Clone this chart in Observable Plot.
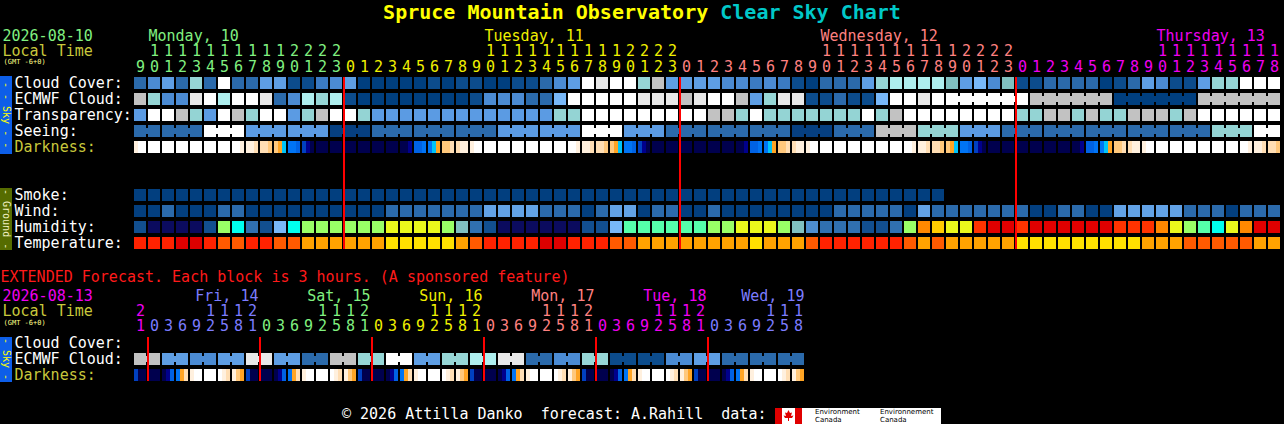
<!DOCTYPE html>
<html><head><meta charset="utf-8">
<script src="https://cdn.jsdelivr.net/npm/d3@7"></script>
<script src="https://cdn.jsdelivr.net/npm/@observablehq/plot@0.6"></script>
<style>
html,body{margin:0;padding:0;background:#000;}
#wrap{position:relative;width:1284px;height:424px;background:#000;overflow:hidden;font-family:"DejaVu Sans Mono",monospace;}
.abs{position:absolute;}
.bar{position:absolute;left:0;width:12px;display:flex;align-items:center;justify-content:center;overflow:hidden;}
.bar span{writing-mode:vertical-rl;font-size:10px;line-height:12px;white-space:pre;font-family:"DejaVu Sans Mono",monospace;}
svg{position:absolute;left:0;}
</style></head><body><div id="wrap"></div>
<script>
// ---------------- DATA ----------------
const hours = [9,10,11,12,13,14,15,16,17,18,19,20,21,22,23,
  0,1,2,3,4,5,6,7,8,9,10,11,12,13,14,15,16,17,18,19,20,21,22,23,
  0,1,2,3,4,5,6,7,8,9,10,11,12,13,14,15,16,17,18,19,20,21,22,23,
  0,1,2,3,4,5,6,7,8,9,10,11,12,13,14,15,16,17,18];
const dayNames = ["Monday, 10","Tuesday, 11","Wednesday, 12","Thursday, 13"];

const cloud = [20,40,50,20,70,20,100,20,20,50,50,10,10,30,40,
  50,0,0,0,0,0,10,0,10,10,0,0,10,10,20,40,50,100,90,100,100,70,80,50,
  50,50,50,40,40,30,40,30,10,0,20,20,20,50,70,75,75,75,75,60,50,55,40,60,
  10,10,20,20,20,20,0,10,20,50,40,10,10,50,70,70,100,100,100];
const ecmwf = [80,70,40,40,90,100,75,100,100,90,20,40,75,70,75,
  10,0,0,0,0,0,0,0,0,10,40,40,40,20,20,55,100,100,100,100,100,90,90,90,
  80,90,100,100,80,50,70,90,90,10,10,20,10,10,55,100,100,90,100,100,100,100,100,100,
  100,80,80,80,80,80,80,0,0,0,0,0,0,80,80,80,80,80,80];
const ecmwfBlocks = [[58,63],[64,69],[70,75],[76,81]];
// transparency: 0 too cloudy, 1 poor, 2 below average, 3 average
const transparency = [3,0,0,1,2,3,0,1,2,0,0,3,2,1,0,
  0,2,3,3,3,3,3,3,3,3,3,3,3,3,3,2,2,0,0,0,0,0,0,0,
  0,0,1,1,2,0,2,2,2,2,2,2,2,0,2,1,0,0,0,0,0,0,0,0,
  2,2,1,1,2,1,2,2,1,1,1,2,1,0,0,0,0,0,0];
// seeing: 0 too cloudy, 1 bad, 2 poor, 3 average, 4 good, 5 excellent (3-hour blocks)
const seeingSpan = [2,3,3,3,3,3,3,3,3,3,3,3,3,3,3,3,3,3,3,3,3,3,3,3,3,3,3,2];
const seeing = [4,4,0,3,3,5,4,4,4,3,3,0,3,4,4,4,5,4,1,2,3,4,4,4,4,4,2,0];
// darkness: three readings per hour block, 0 (dark) .. A (daylight)
const darkness = ["9AA","AAA","AAA","AAA","AAA","AAA","AAA","AA9","998","887","765","443","210","000","000",
  "000","000","000","000","001","334","456","778","899","9AA","AAA","AAA","AAA","AAA","AAA","AAA","AA9","998","887","765","443","210","000","000",
  "000","000","000","000","001","334","456","778","899","9AA","AAA","AAA","AAA","AAA","AAA","AAA","AA9","998","887","765","443","210","000","000",
  "000","000","000","000","001","334","456","778","899","9AA","AAA","AAA","AAA","AAA","AAA","AAA","AA9","998","887"];
const smoke = [0,0,0,0,0,0,0,0,0,0,0,0,0,0,0,0,0,0,0,0,0,0,0,0,0,0,0,0,0,0,
  0,0,0,0,0,0,0,0,0,0,0,0,0,0,0,0,0,0,0,0,0,0,0,0,0,0,0,0];
// wind: 0 = 0-5 mph, 1 = 6-11 mph, 2 = 12-16 mph
const wind = [0,0,1,0,0,0,1,1,0,0,0,0,0,0,0,
  0,0,0,1,1,1,1,1,1,1,2,2,2,2,1,1,1,0,1,2,2,0,1,1,
  0,0,1,0,0,0,0,0,0,0,0,1,1,1,1,1,0,2,1,1,1,1,1,1,
  1,0,0,1,1,0,0,2,2,2,2,2,1,1,1,0,1,1,1];
const humidity = [27,20,20,20,20,27,62,52,32,27,42,52,62,62,62,
  62,62,62,67,67,67,67,62,47,32,27,20,20,20,20,20,20,27,27,42,57,57,57,57,
  57,57,62,62,67,67,67,62,47,37,32,32,32,27,27,32,62,77,72,67,67,82,87,87,
  82,87,87,87,87,87,87,82,82,82,77,67,62,57,52,67,77,87,87];
const temperature = [81,81,81,86,86,81,77,77,81,81,77,77,72,72,72,
  72,72,72,68,68,68,68,68,72,77,81,81,81,81,86,86,81,81,81,77,77,72,72,72,
  72,72,72,72,72,68,72,72,72,77,81,81,81,81,81,81,77,72,77,72,72,72,72,72,
  68,68,68,68,68,68,68,68,68,72,72,72,77,77,77,77,77,72,72];

// extended forecast (3-hour blocks)
const extHours = [21, 0,3,6,9,12,15,18,21, 0,3,6,9,12,15,18,21, 0,3,6,9,12,15,18,21,
  0,3,6,9,12,15,18,21, 0,3,6,9,12,15,18,21, 0,3,6,9,12,15,18];
const extDayNames = [null,"Fri, 14","Sat, 15","Sun, 16","Mon, 17","Tue, 18","Wed, 19"];
const extEcmwf = [80,50,40,50,90,50,20,80,70,100,50,70,75,90,20,40,70,10,10,40,50,20,20,20]; // 6-hour blocks
const extDarkness = ["200",
  "000","013","468","9AA","AAA","A98","976","200",
  "000","013","468","9AA","AAA","A98","976","200",
  "000","013","468","9AA","AAA","A98","976","200",
  "000","013","468","9AA","AAA","A98","976","200",
  "000","013","468","9AA","AAA","A98","976","200",
  "000","013","468","9AA","AAA","A98","976"];

// ---------------- STYLE ----------------
const mono = "DejaVu Sans Mono";
const dayColors = ["#80f080","#f0f000","#ff8080","#f000f0"];
const extDayColors = ["#f000f0","#7c7cff","#80f080","#f0f000","#ff8080","#f000f0","#7c7cff"];
const olive = "#c8c83c";
const cloudScale = d3.scaleOrdinal([0,10,20,30,40,50,55,60,70,75,80,90,100],
  ["#003f7f","#0c4c8c","#2b6aab","#3b7bc2","#4b8bd3","#5e9ee4","#78b8f8","#80c0c0","#96d6d6","#aeeeee","#c2c2c2","#e8e8e8","#ffffff"]);
const transScale = d3.scaleOrdinal([0,1,2,3],["#ffffff","#c2c2c2","#94d4d4","#5b9be3"]);
const seeingScale = d3.scaleOrdinal([0,1,2,3,4,5],["#ffffff","#c2c2c2","#94d4d4","#5b9be3","#2b6aab","#063f80"]);
const darkScale = d3.scaleOrdinal(d3.range(11),["#00004e","#00008c","#0040c0","#0062e4","#0074f4","#00c4f8","#ffa424","#ffc87c","#ffdeb4","#fff0de","#ffffff"]);
const smokeScale = d3.scaleOrdinal([0],["#023f7f"]);
const windScale = d3.scaleOrdinal([0,1,2],["#033f7f","#2b6aab","#62a2e6"]);
const humScale = d3.scaleOrdinal([20,27,32,37,42,47,52,57,62,67,72,77,82,87],
  ["#0b0b5e","#124f8f","#3070b0","#4e8ed0","#78b8f8","#80c0c0","#00ffee","#55ffaa","#99ff66","#eaf81c","#ffcc00","#ff8800","#ff3300","#e00000"]);
const tempScale = d3.scaleOrdinal([68,72,77,81,86],["#ffe000","#ffa200","#ff5a00","#ff2200","#dd0000"]);

const CW = 12/14;   // cell width in column units (12px of 14px)

function cells(values, row, scale){ return values.map((v,i)=>({i,row,fill:scale(v)})); }
function bridges(values, row, scale, blocks){
  const out=[];
  for(const [a,b] of blocks) for(let i=a;i<b;i++) out.push({i,row,fill:scale(values[i])});
  return out;
}
function spansToBlocks(spans){ const out=[]; let s=0; for(const n of spans){ out.push([s,s+n-1]); s+=n; } return out; }
function darkCells(arr,row){
  const out=[];
  arr.forEach((s,i)=>{ for(let k=0;k<3;k++) out.push({i,k,row,fill:darkScale(parseInt(s[k],16))}); });
  return out;
}

const seeingBlocks = spansToBlocks(seeingSpan);
const seeingCol = [];
seeingBlocks.forEach(([a,b],j)=>{ for(let i=a;i<=b;i++) seeingCol[i]=seeing[j]; });
const extBlocks = extEcmwf.map((v,j)=>[2*j,2*j+1]);
const extEcmwfCol = [];
extBlocks.forEach(([a,b],j)=>{ for(let i=a;i<=b;i++) extEcmwfCol[i]=extEcmwf[j]; });

let dd=0; const dayOf = hours.map((h,i)=>{ if(i>0 && h<hours[i-1]) dd++; return dd; });
const hourCols = hours.map((h,i)=>({i,h,day:dayOf[i]}));
const dayLabels = dayNames.map((name,day)=>{ const c = hourCols.find(d=>d.day===day && d.h===10); return {name,day,i:c.i}; });
const midnights = hourCols.filter(d=>d.h===0).map(d=>d.i);

let ed=0; const extDayOf = extHours.map((h,i)=>{ if(i>0 && h<extHours[i-1]) ed++; return ed; });
const extCols = extHours.map((h,i)=>({i,h,day:extDayOf[i]}));
const extDayLabels = extDayNames.map((name,day)=>{ if(!name) return null; const cs = extCols.filter(d=>d.day===day); return {name,day,i:cs[cs.length-1].i}; }).filter(Boolean);
const extMidnights = extCols.filter(d=>d.h===0).map(d=>d.i);

// ---------------- PLOT A (main) ----------------
const slotsA = ["Cloud Cover:","ECMWF Cloud:","Transparency:","Seeing:","Darkness:","g1","g2","Smoke:","Wind:","Humidity:","Temperature:"];
const rowLabelsA = slotsA.filter(s=>!s.startsWith("g")).map(s=>({row:s, color: s==="Darkness:"?olive:"#ffffff"}));

const cellDataA = [
  ...cells(cloud,"Cloud Cover:",cloudScale),
  ...cells(ecmwf,"ECMWF Cloud:",cloudScale),
  ...cells(transparency,"Transparency:",transScale),
  ...cells(seeingCol,"Seeing:",seeingScale),
  ...cells(smoke,"Smoke:",smokeScale),
  ...cells(wind,"Wind:",windScale),
  ...cells(humidity,"Humidity:",humScale),
  ...cells(temperature,"Temperature:",tempScale)
];
const bridgeDataA = [
  ...bridges(seeingCol,"Seeing:",seeingScale,seeingBlocks),
  ...bridges(ecmwf,"ECMWF Cloud:",cloudScale,ecmwfBlocks)
];
const txt = {fontFamily: mono, fontSize: 15, lineAnchor: "middle"};

const plotA = Plot.plot({
  width: 1284, height: 260,
  marginLeft: 134, marginRight: 2, marginTop: 77, marginBottom: 7,
  style: {background: "transparent", fontFamily: mono},
  x: {type: "linear", domain: [0, 82], axis: null},
  y: {type: "band", domain: slotsA, padding: 0, axis: null},
  color: {type: "identity"},
  marks: [
    Plot.barX(cellDataA, {x1: "i", x2: d=>d.i+CW, y: "row", fill: "fill", insetBottom: 4}),
    Plot.barX(bridgeDataA, {x1: d=>d.i+CW, x2: d=>d.i+1, y: "row", fill: "fill", insetTop: 3, insetBottom: 7}),
    Plot.barX(darkCells(darkness,"Darkness:"), {x1: d=>d.i+d.k*CW/3, x2: d=>d.i+(d.k+1)*CW/3, y: "row", fill: "fill", insetBottom: 4}),
    Plot.ruleX(midnights, {x: d=>d, stroke: "#ff0000", strokeWidth: 2, dx: -0.5, insetBottom: 4}),
    Plot.text(rowLabelsA, {y: "row", text: "row", fill: "color", frameAnchor: "left", textAnchor: "start", dx: -120, dy: -2.8, ...txt}),
    Plot.text(hourCols, {x: d=>d.i+CW/2, text: d=>String(d.h%10), fill: d=>dayColors[d.day], frameAnchor: "top", dy: -10.8, ...txt}),
    Plot.text(hourCols.filter(d=>d.h>=10), {x: d=>d.i+CW/2, text: d=>String(Math.floor(d.h/10)), fill: d=>dayColors[d.day], frameAnchor: "top", dy: -26.8, ...txt}),
    Plot.text(dayLabels, {x: "i", text: "name", fill: d=>dayColors[d.day], textAnchor: "start", frameAnchor: "top", dy: -41.5, ...txt}),
    Plot.text(["2026-08-10"], {text: d=>d, fill: dayColors[0], frameAnchor: "top-left", textAnchor: "start", dx: -132, dy: -41.5, ...txt}),
    Plot.text(["Local Time"], {text: d=>d, fill: olive, frameAnchor: "top-left", textAnchor: "start", dx: -132, dy: -26.8, ...txt}),
    Plot.text(["(GMT -6+0)"], {text: d=>d, fill: "#ffff88", frameAnchor: "top-left", textAnchor: "start", dx: -131, dy: -15.5, fontFamily: mono, fontSize: 7, lineAnchor: "middle"})
  ]
});
plotA.style.top = "0px";

// ---------------- PLOT B (extended) ----------------
const slotsB = ["Cloud Cover:","ECMWF Cloud:","Darkness:"];
const rowLabelsB = slotsB.map(s=>({row:s, color: s==="Darkness:"?olive:"#ffffff"}));
const plotB = Plot.plot({
  width: 1284, height: 164,
  marginLeft: 134, marginRight: 2, marginTop: 77, marginBottom: 39,
  style: {background: "transparent", fontFamily: mono},
  x: {type: "linear", domain: [0, 82], axis: null},
  y: {type: "band", domain: slotsB, padding: 0, axis: null},
  color: {type: "identity"},
  marks: [
    Plot.barX(cells(extEcmwfCol,"ECMWF Cloud:",cloudScale), {x1: "i", x2: d=>d.i+CW, y: "row", fill: "fill", insetBottom: 4}),
    Plot.barX(bridges(extEcmwfCol,"ECMWF Cloud:",cloudScale,extBlocks), {x1: d=>d.i+CW, x2: d=>d.i+1, y: "row", fill: "fill", insetTop: 3, insetBottom: 7}),
    Plot.barX(darkCells(extDarkness,"Darkness:"), {x1: d=>d.i+d.k*CW/3, x2: d=>d.i+(d.k+1)*CW/3, y: "row", fill: "fill", insetBottom: 4}),
    Plot.ruleX(extMidnights, {x: d=>d, stroke: "#ff0000", strokeWidth: 2, dx: -0.5, insetBottom: 4}),
    Plot.text(rowLabelsB, {y: "row", text: "row", fill: "color", frameAnchor: "left", textAnchor: "start", dx: -120, dy: -2.8, ...txt}),
    Plot.text(extCols, {x: d=>d.i+CW/2, text: d=>String(d.h%10), fill: d=>extDayColors[d.day], frameAnchor: "top", dy: -11.8, ...txt}),
    Plot.text(extCols.filter(d=>d.h>=10), {x: d=>d.i+CW/2, text: d=>String(Math.floor(d.h/10)), fill: d=>extDayColors[d.day], frameAnchor: "top", dy: -26.8, ...txt}),
    Plot.text(extDayLabels, {x: d=>d.i+CW, text: "name", fill: d=>extDayColors[d.day], textAnchor: "end", frameAnchor: "top", dy: -41.8, ...txt}),
    Plot.text(["EXTENDED Forecast. Each block is 3 hours. (A sponsored feature)"], {text: d=>d, fill: "#ff1a1a", frameAnchor: "top-left", textAnchor: "start", dx: -134, dy: -60.3, ...txt}),
    Plot.text(["2026-08-13"], {text: d=>d, fill: extDayColors[0], frameAnchor: "top-left", textAnchor: "start", dx: -132, dy: -41.8, ...txt}),
    Plot.text(["Local Time"], {text: d=>d, fill: olive, frameAnchor: "top-left", textAnchor: "start", dx: -132, dy: -26.8, ...txt}),
    Plot.text(["(GMT -6+0)"], {text: d=>d, fill: "#ffff88", frameAnchor: "top-left", textAnchor: "start", dx: -131, dy: -14.5, fontFamily: mono, fontSize: 7, lineAnchor: "middle"})
  ]
});
plotB.style.top = "260px";

// ---------------- assemble ----------------
const wrap = document.getElementById("wrap");
wrap.innerHTML = `
<div class="abs" style="left:0;top:2px;width:1284px;text-align:center;font-weight:bold;font-size:20px;line-height:20px;white-space:pre"><span style="color:#ffff00">Spruce Mountain Observatory</span> <span style="color:#00c8c8">Clear Sky Chart</span></div>
<div class="bar" style="top:76px;height:78px;background:#0d5ee8"><span style="color:#ffff00">- - Sky - -</span></div>
<div class="bar" style="top:188px;height:62px;background:#566c00"><span style="color:#f0f0c0">- Ground -</span></div>
<div class="bar" style="top:337px;height:45px;background:#0d5ee8"><span style="color:#ffff00">- Sky -</span></div>
<div class="abs" style="left:342px;top:407px;font-size:15px;line-height:15px;color:#fff;white-space:pre">© 2026 Attilla Danko  forecast: A.Rahill  data:</div>
<div class="abs" style="left:775px;top:408px;width:166px;height:16px;background:#fff;overflow:hidden">
  <div class="abs" style="left:0;top:0;width:7px;height:16px;background:#e00000"></div>
  <div class="abs" style="left:20px;top:0;width:7px;height:16px;background:#e00000"></div>
  <svg class="abs" style="left:8px;top:2px" width="11" height="12" viewBox="0 0 11 12"><path d="M5.5 0 L7 3 L9 2.5 L8 6 L10.5 5.5 L9 8 L6 8 L6 11 L5 11 L5 8 L2 8 L0.5 5.5 L3 6 L2 2.5 L4 3 Z" fill="#e00000"/></svg>
  <div class="abs" style="left:40px;top:0;font-family:'DejaVu Sans';font-size:7px;line-height:8px;color:#000">Environment<br>Canada</div>
  <div class="abs" style="left:105px;top:0;font-family:'DejaVu Sans';font-size:7px;line-height:8px;color:#000">Environnement<br>Canada</div>
</div>`;
wrap.appendChild(plotA);
wrap.appendChild(plotB);
</script></body></html>
